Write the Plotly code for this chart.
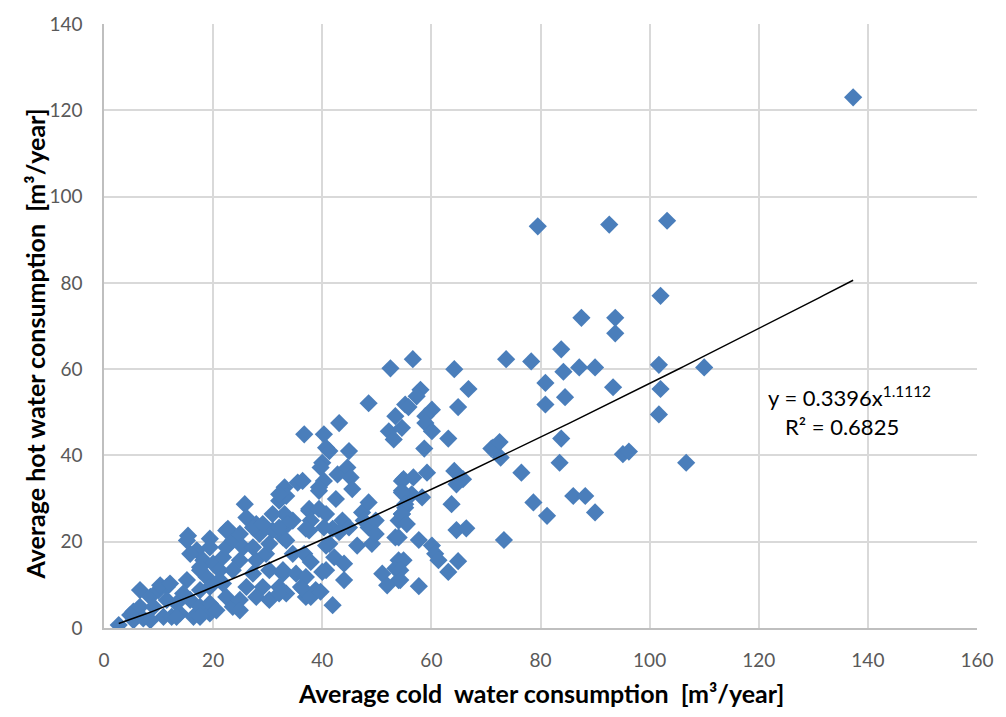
import numpy as np
import plotly.graph_objects as go

# Average cold water consumption [m3/year]
cold = [
    2.7, 6.6, 5.4, 6.6, 5.4, 7.2, 8.5, 9.1, 10.0, 11.5, 11.5, 10.9, 12.4, 13.3, 13.9, 15.2, 14.5, 15.8, 16.4,
    15.4, 17.0, 19.4, 22.7, 25.8, 18.2, 17.6, 18.8, 19.4, 17.6, 17.6, 19.4, 20.0, 21.2, 21.8, 22.4, 23.6, 24.9,
    25.5, 24.9, 23.6, 21.8, 22.4, 23.6, 24.9, 26.1, 27.3, 27.9, 27.3, 28.5, 27.9, 26.1, 30.9, 32.1, 33.1, 30.9,
    32.8, 29.7, 30.3, 29.1, 27.9, 32.1, 33.4, 32.8, 34.6, 34.6,
    10.3, 12.1, 15.8, 17.6, 19.4, 15.2, 19.4, 17.6, 20.6, 13.3, 8.5, 4.8,
    33.4, 39.4, 37.6, 22.4, 27.3, 29.1, 32.8, 37.6, 41.9, 30.3, 41.3, 40.7, 38.8, 37.0, 24.9, 30.3, 21.2,
    32.1, 35.5, 33.1, 33.7, 32.1, 33.4, 32.8, 32.1, 36.1, 35.2, 52.5,
    48.5, 53.4, 52.2, 53.1, 55.2, 43.1, 36.7, 40.3, 40.7, 41.3, 44.9, 40.0, 39.7, 42.8, 44.6, 45.2, 45.5, 40.3,
    39.4, 36.4, 42.5, 37.6, 39.4, 40.7, 37.9, 37.0, 40.3, 43.7, 44.9, 47.3, 48.5, 47.6, 48.5, 49.8, 43.1, 46.4,
    49.1, 49.8, 40.7, 36.7, 37.9, 42.2, 44.0, 40.0, 44.0, 37.0, 36.4, 37.9, 39.7, 41.9, 51.0, 51.9, 54.0, 53.4,
    54.0, 53.4, 54.6, 54.0, 55.2, 54.6, 54.6,
    56.6, 64.2, 66.8, 64.9, 58.0, 57.3, 55.8, 54.6, 60.1, 58.9, 58.9, 60.1, 63.1, 58.7, 71.3, 59.2, 64.2, 54.9,
    56.7, 65.8, 64.6, 58.3, 56.4, 54.6, 55.2, 54.6, 55.5, 63.7, 64.6, 66.4, 57.7, 60.1, 60.7, 61.3, 64.9, 63.1,
    54.9, 54.3, 54.3, 57.7, 54.0,
    73.7, 78.3, 83.8, 93.7, 84.2, 87.1, 90.0, 101.7, 110.0, 80.9, 93.3, 102.0, 84.5, 80.9, 101.7, 83.8, 71.0,
    72.5, 72.7, 95.1, 96.2, 83.5, 106.7, 76.5, 78.7, 86.0, 88.2, 81.2, 90.0, 73.3,
    79.5, 92.6, 103.2, 102.0, 87.5, 93.7, 137.3,
]

# Average hot water consumption [m3/year]
hot = [
    0.7, 8.8, 3.8, 4.9, 1.8, 2.2, 7.2, 4.9, 8.8, 9.5, 6.5, 2.6, 2.6, 5.7, 3.4, 11.1, 8.0, 6.5, 2.6,
    21.4, 18.0, 20.7, 23.0, 28.7, 15.7, 13.4, 11.8, 9.5, 8.8, 4.9, 3.4, 14.9, 13.4, 16.4, 18.7, 20.3, 21.8,
    18.7, 15.7, 13.4, 10.3, 7.2, 4.9, 6.5, 9.5, 12.6, 15.7, 18.7, 21.8, 24.1, 25.6, 26.4, 29.5, 32.6, 22.6,
    21.0, 17.2, 13.4, 9.5, 7.2, 9.5, 8.0, 12.6, 17.2, 24.9,
    9.9, 10.3, 17.2, 14.1, 18.7, 20.3, 5.7, 2.6, 4.1, 2.6, 1.8, 3.0,
    30.6, 31.8, 27.2, 22.6, 23.3, 24.1, 23.3, 22.6, 23.0, 19.5, 19.5, 13.4, 8.8, 7.2, 4.1, 6.5, 11.1,
    31.0, 33.7, 26.4, 24.1, 23.3, 20.3, 13.4, 8.0, 9.5, 12.6, 60.2,
    52.1, 49.1, 45.6, 43.7, 51.8, 47.5, 44.9, 44.9, 41.8, 41.0, 41.0, 38.3, 37.2, 35.6, 37.2, 34.9, 32.2, 34.1,
    32.6, 34.1, 29.9, 27.6, 27.6, 26.4, 24.9, 23.0, 23.3, 24.9, 23.3, 26.8, 29.1, 24.9, 23.3, 24.9, 22.2, 19.1,
    19.5, 21.8, 19.1, 17.2, 15.3, 16.4, 14.9, 13.0, 11.1, 11.8, 9.1, 7.2, 8.4, 5.3, 12.6, 9.9, 11.1, 13.8,
    15.7, 21.0, 26.4, 24.9, 27.9, 34.1, 31.8,
    62.3, 60.0, 55.4, 51.2, 55.2, 53.7, 51.2, 46.4, 50.6, 49.1, 47.5, 45.6, 43.9, 41.6, 41.8, 36.0, 36.4, 34.5,
    34.9, 34.5, 33.3, 30.3, 31.0, 31.4, 28.7, 26.4, 24.1, 28.7, 22.7, 23.1, 20.4, 19.1, 17.2, 15.7, 15.5, 13.0,
    15.7, 13.4, 11.1, 9.7, 21.0,
    62.3, 61.8, 64.6, 68.3, 59.4, 60.4, 60.4, 61.0, 60.4, 56.8, 55.8, 55.4, 53.5, 51.8, 49.5, 43.9, 41.6,
    43.1, 39.5, 40.3, 40.9, 38.3, 38.3, 36.0, 29.1, 30.6, 30.6, 26.0, 26.8, 20.4,
    93.1, 93.5, 94.4, 77.0, 71.9, 71.9, 123.0,
]

# Power trendline reported on the chart: y = a * x^b
trend_a = 0.3396
trend_b = 1.1112
r_squared = 0.6825

x_ticks = [0, 20, 40, 60, 80, 100, 120, 140, 160]
y_ticks = [0, 20, 40, 60, 80, 100, 120, 140]

x_title = "Average cold\u00a0 water consumption\u00a0 [m³/year]"
y_title = "Average hot water consumption\u00a0 [m³/year]"

tx = np.linspace(min(cold), max(cold), 200)
ty = trend_a * tx ** trend_b

FONT = "Lato, sans-serif"

fig = go.Figure()
fig.add_trace(go.Scatter(
    x=cold, y=hot, mode="markers",
    marker=dict(symbol="diamond", size=14, color="#4a7ebb", line=dict(width=0)),
    showlegend=False, hoverinfo="x+y",
))
fig.add_trace(go.Scatter(
    x=tx, y=ty, mode="lines", line=dict(color="black", width=1.5),
    showlegend=False, hoverinfo="skip",
))

fig.add_annotation(
    x=136.6, y=53.6, xref="x", yref="y", showarrow=False,
    text=f"y = {trend_a}x<sup>{trend_b}</sup>",
    font=dict(family=FONT, size=22, color="#000000"),
)
fig.add_annotation(
    x=135.3, y=46.8, xref="x", yref="y", showarrow=False,
    text=f"R² = {r_squared}",
    font=dict(family=FONT, size=22, color="#000000"),
)

# axis titles
fig.add_annotation(
    x=0.5, y=-0.107, xref="paper", yref="paper", showarrow=False,
    xanchor="center", yanchor="middle",
    text=f"<b>{x_title}</b>",
    font=dict(family=FONT, size=25, color="#000000"),
)
fig.add_annotation(
    x=-0.0786, y=0.47, xref="paper", yref="paper", showarrow=False,
    xanchor="center", yanchor="middle", textangle=-90,
    text=f"<b>{y_title}</b>",
    font=dict(family=FONT, size=25, color="#000000"),
)

axis_common = dict(
    showgrid=True, gridcolor="#d9d9d9", gridwidth=1.5,
    zeroline=False, showline=True, linecolor="#bfbfbf", linewidth=1.5,
    ticks="", tickfont=dict(family=FONT, size=19, color="#595959"),
)

fig.update_xaxes(range=[0, 160], tickvals=x_ticks, ticklabelstandoff=14, **axis_common)
fig.update_yaxes(range=[0, 140], tickvals=y_ticks, ticklabelstandoff=16, **axis_common)

fig.update_layout(
    width=1006, height=717,
    margin=dict(l=104, r=24, t=20, b=89),
    paper_bgcolor="white", plot_bgcolor="white",
    font=dict(family=FONT),
)

fig.write_html("out.html")
